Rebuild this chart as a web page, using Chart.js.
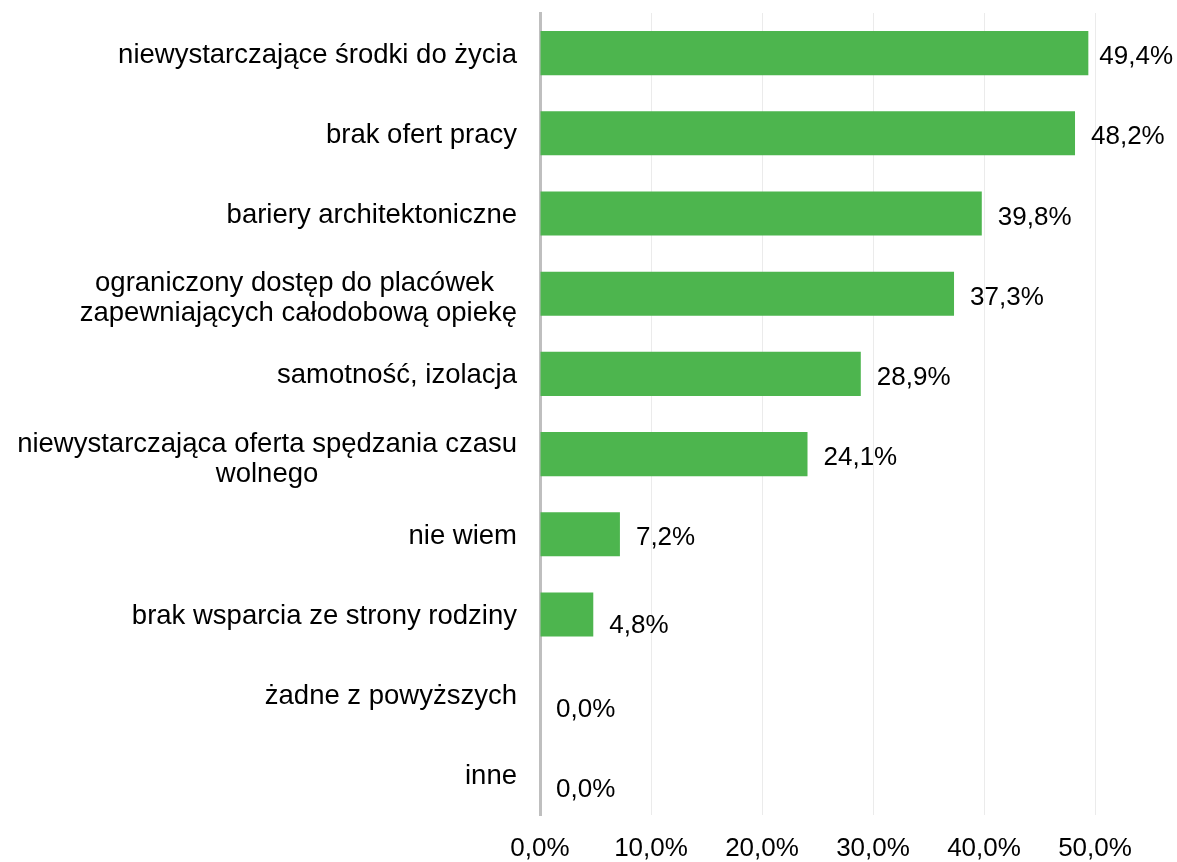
<!DOCTYPE html>
<html lang="pl">
<head>
<meta charset="utf-8">
<title>Bariery</title>
<script src="https://cdn.jsdelivr.net/npm/chart.js@4/dist/chart.umd.min.js"></script>
<style>
  html, body { margin: 0; padding: 0; background: #fff; }
  #wrap { width: 1177px; height: 862px; position: relative; }
</style>
</head>
<body>
<div id="wrap"><canvas id="chart"></canvas></div>
<script>
// kategorie (linie rozdzielone tablica)
const categories = [
  ['niewystarczające środki do życia'],
  ['brak ofert pracy'],
  ['bariery architektoniczne'],
  ['ograniczony dostęp do placówek ', 'zapewniających całodobową opiekę'],
  ['samotność, izolacja'],
  ['niewystarczająca oferta spędzania czasu', 'wolnego'],
  ['nie wiem'],
  ['brak wsparcia ze strony rodziny'],
  ['żadne z powyższych'],
  ['inne']
];
const percents = [49.4, 48.2, 39.8, 37.3, 28.9, 24.1, 7.2, 4.8, 0.0, 0.0];
const axisTicks = [0, 10, 20, 30, 40, 50];

const FONT = 'Liberation Sans, Arial, sans-serif';
const fmt = v => v.toFixed(1).replace('.', ',') + '%';

// etykiety kategorii - linie wysrodkowane w bloku wyrownanym do prawej
const categoryLabels = {
  id: 'categoryLabels',
  afterDraw(chart) {
    const ctx = chart.ctx;
    const yScale = chart.scales.y;
    const right = chart.chartArea.left - 23;
    const lh = 30;
    ctx.save();
    ctx.font = '27.5px ' + FONT;
    ctx.fillStyle = '#000';
    ctx.textAlign = 'center';
    ctx.textBaseline = 'middle';
    categories.forEach((lines, i) => {
      const y = yScale.getPixelForTick(i) + 2;
      const w = Math.max(...lines.map(l => ctx.measureText(l).width));
      const cx = right - w / 2;
      const y0 = y - (lines.length - 1) * lh / 2 + (lines.length > 1 ? 3 : 0);
      lines.forEach((l, k) => ctx.fillText(l, cx, y0 + k * lh));
    });
    ctx.restore();
  }
};

// wartosci przy slupkach
const valueLabels = {
  id: 'valueLabels',
  afterDatasetsDraw(chart) {
    const ctx = chart.ctx;
    const meta = chart.getDatasetMeta(0);
    ctx.save();
    ctx.font = '26px ' + FONT;
    ctx.fillStyle = '#000';
    ctx.textAlign = 'left';
    ctx.textBaseline = 'middle';
    meta.data.forEach((bar, i) => {
      const v = percents[i];
      const dy = v < 1 ? 15 : (v < 6 ? 11 : 4);
      const gap = v > 49 ? 11 : 16;
      ctx.fillText(fmt(v), bar.x + gap, bar.y + dy);
    });
    ctx.restore();
  }
};

new Chart(document.getElementById('chart'), {
  type: 'bar',
  data: {
    labels: categories,
    datasets: [{
      data: percents,
      backgroundColor: '#4db54e',
      borderWidth: 0,
      categoryPercentage: 1,
      barPercentage: 0.55
    }]
  },
  options: {
    indexAxis: 'y',
    responsive: true,
    maintainAspectRatio: false,
    animation: false,
    layout: { padding: { top: 13, right: 82, left: 0, bottom: 0 } },
    plugins: {
      legend: { display: false },
      tooltip: { enabled: false }
    },
    scales: {
      x: {
        min: axisTicks[0],
        max: axisTicks[axisTicks.length - 1],
        afterBuildTicks(scale) {
          scale.ticks = axisTicks.map(v => ({ value: v }));
        },
        afterFit(scale) { scale.height = 47; },
        grid: { color: '#ebebeb', lineWidth: 1, drawTicks: false },
        border: { display: false },
        ticks: {
          padding: 18,
          color: '#000',
          font: { family: FONT, size: 26 },
          callback: v => fmt(v)
        }
      },
      y: {
        afterFit(scale) { scale.width = 540; },
        grid: { display: false, drawTicks: false },
        border: { display: true, color: '#bfbfbf', width: 3 },
        ticks: { display: false }
      }
    }
  },
  plugins: [categoryLabels, valueLabels]
});
</script>
</body>
</html>
